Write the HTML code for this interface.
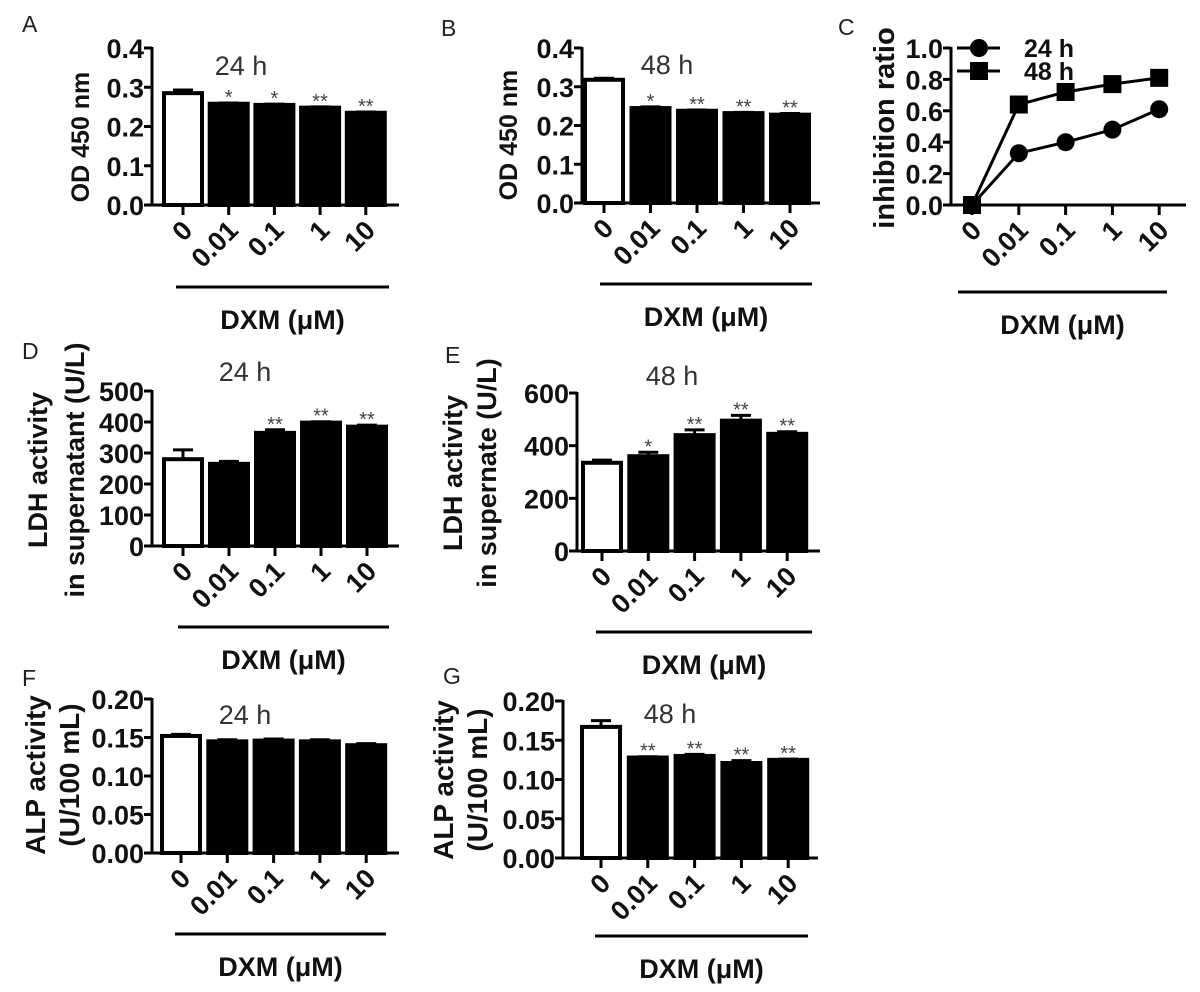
<!DOCTYPE html>
<html><head><meta charset="utf-8"><style>
html,body{margin:0;padding:0;background:#fff;}
svg{display:block;font-family:"Liberation Sans",Arial,sans-serif;}
.tk{font-weight:bold;font-size:27px;fill:#111;}
.ttl{font-weight:bold;fill:#111;}
.xt{font-weight:bold;font-size:27px;fill:#111;}
.lgt{font-weight:bold;font-size:25px;fill:#111;}
.hd{font-size:27px;fill:#333;}
.pl{font-size:23px;fill:#222;}
.st{font-size:20px;fill:#444;}
</style></head><body>
<svg id="fig" width="1200" height="992" viewBox="0 0 1200 992"></svg>
<script>
const categories = ["0","0.01","0.1","1","10"];
const aValues = [0.285,0.258,0.255,0.248,0.235];
const aErr = [0.008,0.002,0.002,0.002,0.002];
const aStars = ["","*","*","**","**"];
const aTicks = [0,0.1,0.2,0.3,0.4];
const bValues = [0.318,0.245,0.238,0.232,0.228];
const bErr = [0.004,0.003,0.002,0.002,0.003];
const bStars = ["","*","**","**","**"];
const cSeries24 = [0,0.33,0.40,0.48,0.61];
const cSeries48 = [0,0.64,0.72,0.77,0.81];
const cTicks = [0,0.2,0.4,0.6,0.8,1.0];
const dValues = [280,265,365,398,385];
const dErr = [30,8,10,3,5];
const dStars = ["","","**","**","**"];
const dTicks = [0,100,200,300,400,500];
const eValues = [335,360,440,495,445];
const eErr = [10,15,20,20,8];
const eStars = ["","*","**","**","**"];
const eTicks = [0,200,400,600];
const fValues = [0.152,0.145,0.146,0.145,0.140];
const fErr = [0.002,0.002,0.002,0.002,0.002];
const fStars = ["","","","",""];
const fTicks = [0,0.05,0.10,0.15,0.20];
const gValues = [0.167,0.128,0.130,0.121,0.125];
const gErr = [0.008,0.001,0.002,0.003,0.001];
const gStars = ["","**","**","**","**"];

const NS="http://www.w3.org/2000/svg";
const svg=document.getElementById('fig');
function mk(tag,attrs,parent,text){const e=document.createElementNS(NS,tag);for(const k in attrs)e.setAttribute(k,attrs[k]);if(text!==undefined)e.textContent=text;(parent||svg).appendChild(e);return e;}

function panel(o){
  const g=mk('g',{});
  
  
  const ymax=o.ticks[o.ticks.length-1];
  const yS=v=>o.y0-(v/ymax)*(o.y0-o.ytop);
  const xS=i=>o.t0+i*o.step;
  const pl=mk('text',{x:o.lx,y:o.ly,class:'pl'},g,o.letter);
  
  
  if(o.values){
    o.values.forEach((v,i)=>{
      const x=xS(i),w=42;
      const top=yS(v);
      const r=mk('rect',{x:x-w/2+2,y:top,width:w-4,height:o.y0-top,fill:i===0?'#fff':'#000',stroke:'#000','stroke-width':4},g);
      
      
      const et=yS(v+o.err[i]);
      mk('line',{x1:x,x2:x,y1:top,y2:et,stroke:'#000','stroke-width':3},g);
      mk('line',{x1:x-10,x2:x+10,y1:et,y2:et,stroke:'#000','stroke-width':3},g);
      if(o.stars[i]){const s=mk('text',{x:x,y:et+1,class:'st','text-anchor':'middle'},g,o.stars[i]);
        
        }
    });
  }
  if(o.lines){
    o.lines.forEach((ln,li)=>{
      const pts=ln.data.map((v,i)=>xS(i)+','+yS(v)).join(' ');
      const p=mk('polyline',{points:pts,fill:'none',stroke:'#000','stroke-width':3},g);
      
      
      ln.data.forEach((v,i)=>{
        let m;
        if(ln.shape==='circle')m=mk('circle',{cx:xS(i),cy:yS(v),r:9,fill:'#000'},g);
        else m=mk('rect',{x:xS(i)-9,y:yS(v)-9,width:18,height:18,fill:'#000'},g);
        
        
      });
    });
  }
  const ya=mk('line',{x1:o.ax,x2:o.ax,y1:o.ytop-1,y2:o.y0+1.5,stroke:'#000','stroke-width':3},g);
  
  
  const xa=mk('line',{x1:o.ax-8,x2:o.xend,y1:o.y0,y2:o.y0,stroke:'#000','stroke-width':3},g);
  
  
  o.ticks.forEach(t=>{
    const y=yS(t);
    mk('line',{x1:o.ax-8,x2:o.ax,y1:y,y2:y,stroke:'#000','stroke-width':3},g);
    const lb=mk('text',{x:o.ax-8,y:y+10,class:'tk','text-anchor':'end'},g,t.toFixed(o.dec));
    
    
  });
  categories.forEach((c,i)=>{
    const x=xS(i);
    mk('line',{x1:x,x2:x,y1:o.y0,y2:o.y0+10,stroke:'#000','stroke-width':3},g);
    const tx=x+11,ty=o.y0+27;
    const lb=mk('text',{x:tx,y:ty,class:'tk','text-anchor':'end',transform:'rotate(-45 '+tx+' '+ty+')'},g,c);
    
    
  });
  mk('line',{x1:o.ux1,x2:o.ux2,y1:o.uy,y2:o.uy,stroke:'#000','stroke-width':3},g);
  const xt=mk('text',{x:(o.ux1+o.ux2)/2,y:o.uy+42,class:'xt','text-anchor':'middle'},g,'DXM (μM)');
  
  
  o.ytitle.forEach((t,k)=>{
    const x=o.ytx[k],y=o.yty;
    const e=mk('text',{x:x,y:y,class:'ttl','text-anchor':'middle',style:'font-size:'+o.yfs+'px',transform:'rotate(-90 '+x+' '+y+')'},g,t);
    
    
  });
  if(o.head){const h=mk('text',{x:o.hx,y:o.hy,class:'hd','text-anchor':'middle'},g,o.head);
    
    }
  return g;
}

panel({id:'a',letter:'A',lx:22,ly:32,values:aValues,err:aErr,stars:aStars,ticks:aTicks,dec:1,ax:152,y0:205,ytop:48,t0:183,step:45.7,xend:399,ux1:176,ux2:389,uy:287,ytitle:['OD 450 nm'],ytx:[89],yty:137,yfs:25,head:'24 h',hx:241,hy:75});
panel({id:'b',letter:'B',lx:441,ly:36,values:bValues,err:bErr,stars:bStars,ticks:aTicks,dec:1,ax:582,y0:203,ytop:48,t0:604,step:46.5,xend:820,ux1:600,ux2:812,uy:284,ytitle:['OD 450 nm'],ytx:[517],yty:135,yfs:25,head:'48 h',hx:667,hy:74});
panel({id:'c',letter:'C',lx:838,ly:35,lines:[{name:'24h',shape:'circle',data:cSeries24},{name:'48h',shape:'square',data:cSeries48}],ticks:cTicks,dec:1,ax:951,y0:205,ytop:48,t0:972,step:46.8,xend:1186,ux1:958,ux2:1167,uy:292,ytitle:['inhibition ratio'],ytx:[894],yty:128,yfs:29});
(function(){
  const lg=mk('g',{});
  mk('line',{x1:957,x2:1000,y1:48,y2:48,stroke:'#000','stroke-width':3},lg);
  mk('circle',{cx:979,cy:48,r:9,fill:'#000'},lg);
  const t1=mk('text',{x:1024,y:57,class:'lgt'},lg,'24 h');
  
  mk('line',{x1:957,x2:1000,y1:71,y2:71,stroke:'#000','stroke-width':3},lg);
  mk('rect',{x:970,y:62,width:18,height:18,fill:'#000'},lg);
  const t2=mk('text',{x:1024,y:80,class:'lgt'},lg,'48 h');
  
})();
panel({id:'d',letter:'D',lx:22,ly:359,values:dValues,err:dErr,stars:dStars,ticks:dTicks,dec:0,ax:152,y0:546,ytop:391,t0:183,step:46,xend:399,ux1:178,ux2:389,uy:627,ytitle:['LDH activity','in supernatant (U/L)'],ytx:[47,84],yty:470,yfs:27,head:'24 h',hx:245,hy:381});
panel({id:'e',letter:'E',lx:445,ly:363,values:eValues,err:eErr,stars:eStars,ticks:eTicks,dec:0,ax:577,y0:551,ytop:393,t0:602,step:46.3,xend:820,ux1:596,ux2:812,uy:632,ytitle:['LDH activity','in supernate (U/L)'],ytx:[462,496],yty:473,yfs:27,head:'48 h',hx:672,hy:385});
panel({id:'f',letter:'F',lx:22,ly:686,values:fValues,err:fErr,stars:fStars,ticks:fTicks,dec:2,ax:152,y0:853,ytop:699,t0:181,step:46.3,xend:399,ux1:175,ux2:386,uy:934,ytitle:['ALP activity','(U/100 mL)'],ytx:[45,79],yty:775,yfs:28,head:'24 h',hx:245,hy:724});
panel({id:'g',letter:'G',lx:443,ly:684,values:gValues,err:gErr,stars:gStars,ticks:fTicks,dec:2,ax:563,y0:858,ytop:701,t0:601,step:46.8,xend:818,ux1:595,ux2:808,uy:936,ytitle:['ALP activity','(U/100 mL)'],ytx:[453,487],yty:780,yfs:28,head:'48 h',hx:670,hy:723});
</script>
</body></html>
